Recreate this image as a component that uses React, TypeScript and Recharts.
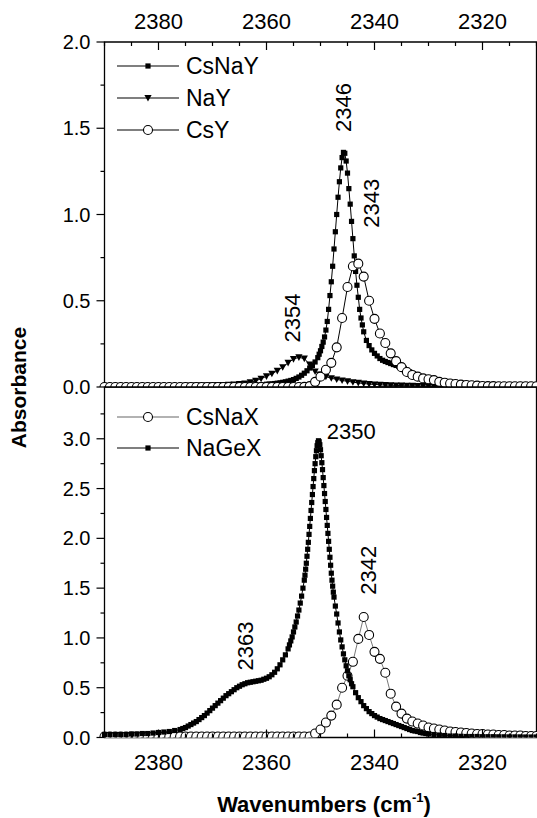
import React from 'react';
import { ComposedChart, Line, Scatter, XAxis, YAxis, ReferenceArea } from 'recharts';

const FONT = '"Liberation Sans", Arial, Helvetica, sans-serif';

// Y zeolites (top panel), [wavenumber, absorbance]
const csnay: [number, number][] = [
  [2390, 0.003], [2389, 0.003], [2388, 0.003], [2387, 0.003], [2386, 0.003], [2385, 0.003], [2384, 0.003], [2383, 0.003],
  [2382, 0.004], [2381, 0.004], [2380, 0.004], [2379, 0.004], [2378, 0.004], [2377, 0.005], [2376, 0.005], [2375, 0.005],
  [2374, 0.005], [2373, 0.006], [2372, 0.006], [2371, 0.006], [2370, 0.007], [2369, 0.007], [2368, 0.008], [2367, 0.008],
  [2366, 0.009], [2365, 0.01], [2364, 0.011], [2363, 0.012], [2362, 0.013], [2361, 0.014], [2360, 0.016],
  [2359.5, 0.017], [2359, 0.018], [2358.5, 0.02], [2358, 0.022], [2357.5, 0.024], [2357, 0.027], [2356.5, 0.03],
  [2356, 0.034], [2355.5, 0.038], [2355, 0.043], [2354.5, 0.05], [2354, 0.058], [2353.5, 0.068], [2353, 0.08],
  [2352.5, 0.094], [2352, 0.11], [2351.5, 0.125], [2351, 0.145], [2350.5, 0.17],
  [2350.25, 0.19], [2350, 0.21], [2349.75, 0.235], [2349.5, 0.26], [2349.25, 0.29], [2349, 0.33], [2348.75, 0.38],
  [2348.5, 0.45], [2348.25, 0.53], [2348, 0.61], [2347.75, 0.7], [2347.5, 0.8], [2347.25, 0.9], [2347, 1.0],
  [2346.75, 1.1], [2346.5, 1.19], [2346.25, 1.27], [2346, 1.33], [2345.75, 1.36], [2345.5, 1.355], [2345.25, 1.31],
  [2345, 1.24], [2344.75, 1.15], [2344.5, 1.06], [2344.25, 0.96], [2344, 0.86], [2343.75, 0.76], [2343.5, 0.67],
  [2343.25, 0.59], [2343, 0.52], [2342.75, 0.45], [2342.5, 0.4], [2342.25, 0.36], [2342, 0.32],
  [2341.5, 0.27], [2341, 0.24], [2340.5, 0.215], [2340, 0.195], [2339.5, 0.18], [2339, 0.165], [2338.5, 0.155],
  [2338, 0.148], [2337.5, 0.142], [2337, 0.136], [2336.5, 0.13], [2336, 0.125], [2335.5, 0.12], [2335, 0.115],
  [2334.5, 0.108], [2334, 0.098], [2333.5, 0.088], [2333, 0.078], [2332.5, 0.068], [2332, 0.058], [2331.5, 0.05],
  [2331, 0.044], [2330.5, 0.038], [2330, 0.033],
  [2329, 0.026], [2328, 0.02], [2327, 0.016], [2326, 0.013], [2325, 0.011], [2324, 0.009], [2323, 0.008], [2322, 0.007],
  [2321, 0.006], [2320, 0.006], [2319, 0.005], [2318, 0.005], [2317, 0.005], [2316, 0.004], [2315, 0.004], [2314, 0.004],
  [2313, 0.004], [2312, 0.004], [2311, 0.004], [2310, 0.004],
];

const nay: [number, number][] = [
  [2390, 0.004], [2389, 0.004], [2388, 0.004], [2387, 0.004], [2386, 0.004], [2385, 0.004], [2384, 0.005], [2383, 0.005],
  [2382, 0.005], [2381, 0.005], [2380, 0.005], [2379, 0.005], [2378, 0.006], [2377, 0.006], [2376, 0.006], [2375, 0.007],
  [2374, 0.007], [2373, 0.008], [2372, 0.008], [2371, 0.009], [2370, 0.01], [2369, 0.011], [2368, 0.012], [2367, 0.013],
  [2366, 0.015], [2365, 0.017], [2364, 0.021], [2363, 0.027], [2362, 0.036], [2361, 0.048], [2360, 0.062], [2359, 0.077],
  [2358, 0.094], [2357, 0.115], [2356, 0.14], [2355, 0.162], [2354, 0.172], [2353, 0.165], [2352, 0.13], [2351, 0.09],
  [2350, 0.072], [2349, 0.06], [2348, 0.051], [2347, 0.044], [2346, 0.038], [2345, 0.033], [2344, 0.028], [2343, 0.024],
  [2342, 0.02], [2341, 0.017], [2340, 0.015], [2339, 0.013], [2338, 0.011], [2337, 0.01], [2336, 0.009], [2335, 0.008],
  [2334, 0.007], [2333, 0.007], [2332, 0.006], [2331, 0.006], [2330, 0.005], [2329, 0.005], [2328, 0.005], [2327, 0.004],
  [2326, 0.004], [2325, 0.004], [2324, 0.004], [2323, 0.003], [2322, 0.003], [2321, 0.003], [2320, 0.003], [2319, 0.003],
  [2318, 0.003], [2317, 0.003], [2316, 0.003], [2315, 0.003], [2314, 0.003], [2313, 0.003], [2312, 0.003], [2311, 0.003],
  [2310, 0.003],
];

const csy: [number, number][] = [
  [2390, 0], [2389, 0], [2388, 0], [2387, 0], [2386, 0], [2385, 0], [2384, 0], [2383, 0], [2382, 0], [2381, 0],
  [2380, 0], [2379, 0], [2378, 0], [2377, 0], [2376, 0], [2375, 0], [2374, 0], [2373, 0], [2372, 0], [2371, 0],
  [2370, 0], [2369, 0], [2368, 0], [2367, 0], [2366, 0], [2365, 0], [2364, 0], [2363, 0], [2362, 0], [2361, 0],
  [2360, 0], [2359, 0], [2358, 0], [2357, 0], [2356, 0], [2355, 0], [2354, 0], [2353, 0.001],
  [2352, 0.005], [2351, 0.03], [2350, 0.06], [2349, 0.1], [2348, 0.14], [2347, 0.23], [2346, 0.4], [2345, 0.58],
  [2344, 0.7], [2343, 0.715], [2342, 0.64], [2341, 0.5], [2340, 0.395], [2339, 0.31], [2338, 0.255], [2337, 0.195],
  [2336, 0.15], [2335, 0.115], [2334, 0.087], [2333, 0.07], [2332, 0.06], [2331, 0.05], [2330, 0.045], [2329, 0.04],
  [2328, 0.03], [2327, 0.025], [2326, 0.02], [2325, 0.017], [2324, 0.014], [2323, 0.012], [2322, 0.01], [2321, 0.008],
  [2320, 0.006], [2319, 0.005], [2318, 0.005], [2317, 0.004], [2316, 0.004], [2315, 0.004], [2314, 0.004], [2313, 0.004],
  [2312, 0.004], [2311, 0.004], [2310, 0.004],
];

// X zeolites (bottom panel)
const csnax: [number, number][] = [
  [2390, 0.01], [2389, 0.01], [2388, 0.01], [2387, 0.01], [2386, 0.01], [2385, 0.01], [2384, 0.01], [2383, 0.01],
  [2382, 0.01], [2381, 0.01], [2380, 0.01], [2379, 0.01], [2378, 0.01], [2377, 0.01], [2376, 0.01], [2375, 0.01],
  [2374, 0.01], [2373, 0.01], [2372, 0.01], [2371, 0.01], [2370, 0.01], [2369, 0.01], [2368, 0.01], [2367, 0.01],
  [2366, 0.01], [2365, 0.01], [2364, 0.01], [2363, 0.01], [2362, 0.01], [2361, 0.01], [2360, 0.01], [2359, 0.01],
  [2358, 0.01], [2357, 0.01], [2356, 0.01], [2355, 0.01], [2354, 0.01], [2353, 0.01],
  [2352, 0.01], [2351, 0.04], [2350, 0.08], [2349, 0.15], [2348, 0.22], [2347, 0.33], [2346, 0.5], [2345, 0.62],
  [2344, 0.76], [2343, 0.99], [2342, 1.21], [2341, 1.03], [2340, 0.86], [2339, 0.79], [2338, 0.65], [2337, 0.44],
  [2336, 0.31], [2335, 0.24], [2334, 0.19], [2333, 0.16], [2332, 0.14], [2331, 0.12], [2330, 0.1], [2329, 0.09],
  [2328, 0.08], [2327, 0.07], [2326, 0.06], [2325, 0.055], [2324, 0.05], [2323, 0.045], [2322, 0.04], [2321, 0.035],
  [2320, 0.035], [2319, 0.03], [2318, 0.03], [2317, 0.025], [2316, 0.025], [2315, 0.02], [2314, 0.02], [2313, 0.02],
  [2312, 0.015], [2311, 0.015], [2310, 0.015],
];

const nagex: [number, number][] = [
  [2390, 0.03], [2389, 0.03], [2388, 0.03], [2387, 0.03], [2386, 0.03], [2385, 0.035], [2384, 0.035], [2383, 0.04],
  [2382, 0.04], [2381, 0.045], [2380, 0.05], [2379, 0.055], [2378, 0.06], [2377, 0.07], [2376, 0.08],
  [2375.5, 0.09], [2375, 0.1], [2374.5, 0.115], [2374, 0.13], [2373.5, 0.145], [2373, 0.16], [2372.5, 0.18],
  [2372, 0.2], [2371.5, 0.22], [2371, 0.245], [2370.5, 0.27], [2370, 0.295], [2369.5, 0.32], [2369, 0.345],
  [2368.5, 0.37], [2368, 0.395], [2367.5, 0.42], [2367, 0.44], [2366.5, 0.46], [2366, 0.48], [2365.5, 0.5],
  [2365, 0.515], [2364.5, 0.53], [2364, 0.54], [2363.5, 0.55], [2363, 0.555], [2362.5, 0.56], [2362, 0.565],
  [2361.5, 0.57], [2361, 0.575], [2360.5, 0.585], [2360, 0.595], [2359.5, 0.61], [2359, 0.63], [2358.5, 0.655],
  [2358, 0.69], [2357.5, 0.73], [2357, 0.78], [2356.5, 0.83], [2356, 0.89],
  [2355.75, 0.93], [2355.5, 0.97], [2355.25, 1.01], [2355, 1.06], [2354.75, 1.11], [2354.5, 1.16], [2354.25, 1.22],
  [2354, 1.28], [2353.75, 1.35], [2353.5, 1.42], [2353.25, 1.5], [2353, 1.58],
  [2352.875, 1.63], [2352.75, 1.69], [2352.625, 1.75], [2352.5, 1.82], [2352.375, 1.89], [2352.25, 1.96],
  [2352.125, 2.04], [2352, 2.12], [2351.875, 2.2], [2351.75, 2.28], [2351.625, 2.36], [2351.5, 2.44],
  [2351.375, 2.52], [2351.25, 2.6], [2351.125, 2.68], [2351, 2.75], [2350.875, 2.82], [2350.75, 2.88],
  [2350.625, 2.93], [2350.5, 2.96], [2350.375, 2.98], [2350.25, 2.97], [2350.125, 2.94], [2350, 2.89],
  [2349.875, 2.83], [2349.75, 2.76], [2349.625, 2.69], [2349.5, 2.61], [2349.375, 2.53], [2349.25, 2.45],
  [2349.125, 2.37], [2349, 2.29], [2348.875, 2.21], [2348.75, 2.13], [2348.625, 2.05], [2348.5, 1.97],
  [2348.375, 1.89], [2348.25, 1.81], [2348.125, 1.73], [2348, 1.65], [2347.875, 1.58], [2347.75, 1.52],
  [2347.625, 1.46], [2347.5, 1.41],
  [2347.25, 1.32], [2347, 1.24], [2346.75, 1.15], [2346.5, 1.06], [2346.25, 0.98], [2346, 0.91], [2345.75, 0.84],
  [2345.5, 0.78], [2345.25, 0.72], [2345, 0.67], [2344.75, 0.62], [2344.5, 0.58], [2344.25, 0.54], [2344, 0.51],
  [2343.5, 0.45], [2343, 0.4], [2342.5, 0.36], [2342, 0.32], [2341.5, 0.29], [2341, 0.26], [2340.5, 0.24],
  [2340, 0.22], [2339.5, 0.205], [2339, 0.19], [2338.5, 0.18], [2338, 0.17], [2337.5, 0.16], [2337, 0.15],
  [2336.5, 0.14], [2336, 0.13], [2335.5, 0.12], [2335, 0.11], [2334.5, 0.1], [2334, 0.09], [2333.5, 0.08],
  [2333, 0.07], [2332.5, 0.065], [2332, 0.06], [2331.5, 0.05], [2331, 0.045], [2330.5, 0.04], [2330, 0.035],
  [2329, 0.03], [2328, 0.025], [2327, 0.02], [2326, 0.015], [2325, 0.015], [2324, 0.012], [2323, 0.01], [2322, 0.01],
  [2321, 0.01], [2320, 0.008], [2319, 0.008], [2318, 0.008], [2317, 0.007], [2316, 0.007], [2315, 0.006],
  [2314, 0.006], [2313, 0.006], [2312, 0.005], [2311, 0.005], [2310, 0.005],
];

const xTicks = [2390, 2385, 2380, 2375, 2370, 2365, 2360, 2355, 2350, 2345, 2340, 2335, 2330, 2325, 2320, 2315, 2310];
const topYTicks = [0, 0.25, 0.5, 0.75, 1, 1.25, 1.5, 1.75, 2];
const botYTicks = [0, 0.25, 0.5, 0.75, 1, 1.25, 1.5, 1.75, 2, 2.25, 2.5, 2.75, 3, 3.25];

// peak labels: position in data units, rotated or not
const topNotes = [
  { x: 2345.8, y: 1.62, text: '2346', rot: true },
  { x: 2340.5, y: 1.065, text: '2343', rot: true },
  { x: 2355.2, y: 0.4, text: '2354', rot: true },
];
const botNotes = [
  { x: 2344.3, y: 3.075, text: '2350', rot: false },
  { x: 2341.2, y: 1.68, text: '2342', rot: true },
  { x: 2363.9, y: 0.92, text: '2363', rot: true },
];

const rows = (pts: [number, number][]) => pts.map(([x, y]) => ({ x, y }));

const square = (cx: number, cy: number, key?: any) => (
  <rect key={key} x={cx - 2.6} y={cy - 2.6} width={5.2} height={5.2} fill="#000" />
);
const triangle = (cx: number, cy: number, key?: any) => (
  <path key={key} d={`M${cx - 3.6},${cy - 3} L${cx + 3.6},${cy - 3} L${cx},${cy + 3.6} Z`} fill="#000" />
);
const circle = (cx: number, cy: number, key?: any) => (
  <circle key={key} cx={cx} cy={cy} r={4.5} fill="#fff" stroke="#000" strokeWidth={1.1} />
);

const dotFn = (shape: typeof square) => (p: any) => {
  if (p.cx == null || p.cy == null) return <g key={p.index} />;
  return shape(p.cx, p.cy, p.index);
};

// x ticks: every 5, longer and labelled every 20; dir = +1 points down, -1 points up
const xTick = (dir: number, labelDy: number | null) => (p: any) => {
  const { x, y, payload } = p;
  const v = payload.value;
  const major = v % 20 === 0;
  return (
    <g>
      <line x1={x} x2={x} y1={y} y2={y + dir * (major ? 8 : 4)} stroke="#000" strokeWidth={1.2} />
      {major && labelDy !== null && (
        <text x={x} y={y + labelDy} textAnchor="middle" fontSize={22} fontFamily={FONT} fill="#000">
          {v}
        </text>
      )}
    </g>
  );
};

const yTick = (p: any) => {
  const { x, y, payload } = p;
  const v = payload.value;
  const major = Math.abs(v * 2 - Math.round(v * 2)) < 1e-6;
  return (
    <g>
      <line x1={x - (major ? 8 : 4)} x2={x} y1={y} y2={y} stroke="#000" strokeWidth={1.2} />
      {major && (
        <text x={x - 14} y={y + 7} textAnchor="end" fontSize={20} fontFamily={FONT} fill="#000">
          {v.toFixed(1)}
        </text>
      )}
    </g>
  );
};

const noteShape = (p: any) => {
  const { cx, cy, payload } = p;
  return (
    <text
      x={cx}
      y={cy}
      transform={payload.rot ? `rotate(-90 ${cx} ${cy})` : undefined}
      textAnchor="middle"
      dominantBaseline="central"
      fontSize={22}
      fontFamily={FONT}
      fill="#000"
    >
      {payload.text}
    </text>
  );
};

const W = 537;

// plot area: x 104.5..536.5; top panel y 42..387, bottom panel y 387..737.5
const TopPanel = () => (
  <ComposedChart width={W} height={400} margin={{ top: 12, right: 0.5, bottom: 3, left: 44.5 }}>
    <XAxis xAxisId={0} dataKey="x" type="number" domain={[2310, 2390]} reversed orientation="top" height={30}
      ticks={xTicks} interval={0} tickSize={0} tickMargin={0} axisLine={false} tickLine={false} tick={xTick(1, -13)} />
    <XAxis xAxisId="b" dataKey="x" type="number" domain={[2310, 2390]} reversed orientation="bottom" height={10}
      ticks={xTicks} interval={0} tickSize={0} tickMargin={0} axisLine={false} tickLine={false} tick={xTick(-1, null)} />
    <YAxis type="number" domain={[0, 2]} width={60} ticks={topYTicks} interval={0} tickSize={0} tickMargin={0}
      axisLine={false} tickLine={false} tick={yTick} allowDataOverflow />
    <ReferenceArea x1={2310} x2={2390} y1={0} y2={2} fill="none" stroke="#000" strokeWidth={1.3} ifOverflow="visible" />
    <Line data={rows(csnay)} dataKey="y" stroke="#000" strokeWidth={1} dot={dotFn(square)} activeDot={false} isAnimationActive={false} />
    <Line data={rows(nay)} dataKey="y" stroke="#000" strokeWidth={1} dot={dotFn(triangle)} activeDot={false} isAnimationActive={false} />
    <Line data={rows(csy)} dataKey="y" stroke="#000" strokeWidth={1} dot={dotFn(circle)} activeDot={false} isAnimationActive={false} />
    <Scatter data={topNotes} dataKey="y" shape={noteShape} isAnimationActive={false} />
  </ComposedChart>
);

const BottomPanel = () => (
  <ComposedChart width={W} height={818} margin={{ top: 387, right: 0.5, bottom: 40.5, left: 44.5 }}>
    <XAxis dataKey="x" type="number" domain={[2310, 2390]} reversed orientation="bottom" height={40}
      ticks={xTicks} interval={0} tickSize={0} tickMargin={0} axisLine={false} tickLine={false} tick={xTick(-1, 32)} />
    <YAxis type="number" domain={[0, 3.52]} width={60} ticks={botYTicks} interval={0} tickSize={0} tickMargin={0}
      axisLine={false} tickLine={false} tick={yTick} allowDataOverflow />
    <ReferenceArea x1={2310} x2={2390} y1={0} y2={3.52} fill="none" stroke="#000" strokeWidth={1.3} ifOverflow="visible" />
    <Line data={rows(csnax)} dataKey="y" stroke="#555" strokeWidth={0.8} dot={dotFn(circle)} activeDot={false} isAnimationActive={false} />
    <Line data={rows(nagex)} dataKey="y" stroke="#000" strokeWidth={1} dot={dotFn(square)} activeDot={false} isAnimationActive={false} />
    <Scatter data={botNotes} dataKey="y" shape={noteShape} isAnimationActive={false} />
  </ComposedChart>
);

const legendRow = (y: number, label: string, shape: typeof square, stroke = '#000') => (
  <g key={label}>
    <line x1={117} x2={179} y1={y} y2={y} stroke={stroke} strokeWidth={1.1} />
    {shape(148, y)}
    <text x={186} y={y + 8.3} fontSize={23} fontFamily={FONT} fill="#000">{label}</text>
  </g>
);

export default function App() {
  return (
    <div style={{ position: 'absolute', left: 0, top: 0, width: W, height: 818, background: '#fff' }}>
      <div style={{ position: 'absolute', left: 0, top: 0 }}>
        <TopPanel />
      </div>
      <div style={{ position: 'absolute', left: 0, top: 0 }}>
        <BottomPanel />
      </div>
      <svg width={W} height={818} style={{ position: 'absolute', left: 0, top: 0, pointerEvents: 'none' }}>
        {legendRow(66, 'CsNaY', square)}
        {legendRow(98, 'NaY', triangle)}
        {legendRow(130, 'CsY', circle)}
        {legendRow(417, 'CsNaX', circle, '#666')}
        {legendRow(448, 'NaGeX', square)}
        <text transform="translate(26,387.5) rotate(-90)" textAnchor="middle" fontSize={21} fontWeight="bold" fontFamily={FONT}>
          Absorbance
        </text>
        <text x={324} y={812} textAnchor="middle" fontSize={22} fontWeight="bold" fontFamily={FONT}>
          Wavenumbers (cm<tspan fontSize={13} dy={-10}>-1</tspan><tspan dy={10}>)</tspan>
        </text>
      </svg>
    </div>
  );
}
